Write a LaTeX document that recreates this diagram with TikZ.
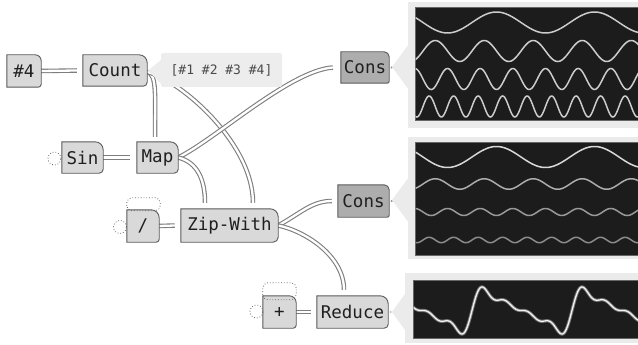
\documentclass[tikz,border=0pt]{standalone}
\usepackage{fontspec}
\setmonofont{DejaVu Sans Mono}
\usetikzlibrary{calc}

\pgfdeclarelayer{wires}
\pgfdeclarelayer{shapes}
\pgfsetlayers{wires,shapes,main}

\definecolor{nodefill}{HTML}{D9D9D9}
\definecolor{consfill}{HTML}{ADADAD}
\definecolor{edgegray}{HTML}{5A5A5A}
\definecolor{wiregray}{HTML}{7E7E7E}
\definecolor{panelgray}{HTML}{EBEBEB}
\definecolor{screen}{HTML}{1C1C1C}
\definecolor{labelfill}{HTML}{EDEDED}
\definecolor{labeltext}{HTML}{4A4A4A}

% partial Fourier sum of a sawtooth
\pgfmathdeclarefunction{saw}{1}{%
  \pgfmathparse{sin(#1)+sin(2*#1)/2+sin(3*#1)/3+sin(4*#1)/4}}

% block outline: square left side, large round top-right, small round bottom-right
\newcommand\tabshape[4]{%
  \begin{pgfonlayer}{shapes}
    \draw[draw=edgegray, line width=0.9pt, fill=#2]
      (#1.south west) -- (#1.north west)
      -- ([xshift=-#3]#1.north east) arc[start angle=90, end angle=0, radius=#3]
      -- ([yshift=#4]#1.south east) arc[start angle=0, end angle=-90, radius=#4]
      -- cycle;
  \end{pgfonlayer}}

\begin{document}
\begin{tikzpicture}[x=1pt,y=-1pt,
  fn/.style={inner sep=0pt, font=\ttfamily\fontsize{17.5}{20}\selectfont, text=black!88},
  wire/.style={draw=wiregray, line width=1.1pt, double=white, double distance=2.3pt},
  dotc/.style={circle, draw=black!60, dotted, line width=0.8pt, minimum size=13pt, inner sep=0pt},
  capline/.style={draw=black!60, dotted, line width=0.8pt, rounded corners=5pt},
  screenbox/.style={fill=screen, draw=black!60, line width=0.6pt},
  wave/.style={line width=1.5pt, line cap=round},
 ]
\useasboundingbox (0,0) rectangle (638,345);
\clip (0,0) rectangle (638,345);

% ---- blocks ----
\node[fn, minimum width=34pt, minimum height=32pt] (n4)   at (24,71)     {\#4};
\node[fn, minimum width=64pt, minimum height=31pt] (cnt)  at (115,70.5)  {Count};
\node[fn, minimum width=41pt, minimum height=31pt] (sin)  at (82.5,157.5) {Sin};
\node[fn, minimum width=41pt, minimum height=31pt] (map)  at (157.5,157.5) {Map};
\node[fn, minimum width=32pt, minimum height=32pt] (div)  at (143,226)   {/};
\node[fn, minimum width=97pt, minimum height=33pt] (zip)  at (229.5,225.5) {Zip-With};
\node[fn, minimum width=33pt, minimum height=32pt] (plus) at (279.5,312)  {+};
\node[fn, minimum width=71pt, minimum height=32pt] (red)  at (352.5,312)  {Reduce};
\node[fn, minimum width=48pt, minimum height=31pt] (cons1) at (365,67.5) {Cons};
\node[fn, minimum width=51pt, minimum height=32pt] (cons2) at (363.5,201) {Cons};

\tabshape{n4}{nodefill}{6pt}{3pt}
\tabshape{cnt}{nodefill}{8pt}{4pt}
\tabshape{sin}{nodefill}{8pt}{4pt}
\tabshape{map}{nodefill}{8pt}{4pt}
\tabshape{div}{nodefill}{8pt}{3pt}
\tabshape{zip}{nodefill}{8pt}{5pt}
\tabshape{plus}{nodefill}{7pt}{3pt}
\tabshape{red}{nodefill}{8pt}{4pt}
\tabshape{cons1}{consfill}{5pt}{2pt}
\tabshape{cons2}{consfill}{5pt}{2pt}

% ---- unbound inputs ----
\node[dotc] (sinin)  at (54.5,158.5) {};
\node[dotc] (divin)  at (120,227)    {};
\node[dotc] (plusin) at (256.5,311.5) {};
\draw[capline] ([yshift=-1pt]div.north west) -- ([yshift=12pt]div.north west)
  -- ([yshift=12pt,xshift=1pt]div.north east) -- ([yshift=-1pt,xshift=1pt]div.north east) -- cycle;
\draw[capline] ([yshift=-4pt]plus.north west) -- ([yshift=13pt]plus.north west)
  -- ([yshift=13pt]plus.north east) -- ([yshift=-4pt]plus.north east) -- cycle;

% ---- value label of Count ----
\fill[labelfill] ([xshift=1pt]cnt.east) -- (162,59) -- (162,85) -- cycle;
\node[fill=labelfill, rounded corners=2pt, minimum width=121pt, minimum height=34pt, inner sep=0pt,
      text=labeltext, font=\ttfamily\fontsize{13}{15}\selectfont] (lbl) at (221.5,70) {[\#1 \#2 \#3 \#4]};

% ---- wires ----
\begin{pgfonlayer}{wires}
\draw[wire] (n4.east) -- ([xshift=-6pt]cnt.west);
\draw[wire] (sin.east) -- ([xshift=-7pt]map.west);
\draw[wire] (div.east) -- ([xshift=-6pt]zip.west);
\draw[wire] (plus.east) -- ([xshift=-6pt]red.west);
\draw[wire] ([yshift=-1.5pt]cnt.east) .. controls +(10,2) and +(0,-40) .. ([xshift=-2.5pt,yshift=5pt]map.north);
\draw[wire] ([yshift=-1.5pt]cnt.east) .. controls +(33,8) and +(0,-60) .. ([xshift=23.5pt,yshift=6pt]zip.north);
\draw[wire] (map.east) .. controls +(37,-18) and +(-43,3) .. ([xshift=-8pt]cons1.west);
\draw[wire] (map.east) .. controls +(20,5) and +(0,-22) .. ([xshift=-24.5pt,yshift=6pt]zip.north);
\draw[wire] (zip.east) .. controls +(22,-12) and +(-20,0) .. ([xshift=-6pt]cons2.west);
\draw[wire] (zip.east) .. controls +(25,5) and +(0,-35) .. ([xshift=-8.5pt,yshift=6pt]red.north);
\end{pgfonlayer}

% ---- output ports ----
\fill[black!45] ([xshift=2.5pt]cons1.east) circle (1.2pt);
\fill[black!45] ([xshift=2.5pt]cons2.east) circle (1.2pt);
\fill[black!25] ([xshift=2.5pt]red.east) circle (1.2pt);

% ---- scope panels (phase factor 360/98 = 3.67347 deg per unit) ----
\fill[panelgray] (392,67) -- (409,44) -- (409,90) -- cycle;
\fill[panelgray] (408,2) rectangle (640,128);
\draw[screenbox] (415,7) rectangle (642,120);
\begin{scope}
  \clip (415.5,7.5) rectangle (638,119.5);
  \draw[wave, black!20] plot[domain=413:640, samples=200, smooth] (\x, {22.5 - 10.5*sin(3.67347*(\x-472))});
  \draw[wave, black!20] plot[domain=413:640, samples=200, smooth] (\x, {51 - 10.5*sin(7.34694*(\x-472))});
  \draw[wave, black!20] plot[domain=413:640, samples=250, smooth] (\x, {79 - 10.5*sin(11.0204*(\x-472))});
  \draw[wave, black!20] plot[domain=413:640, samples=300, smooth] (\x, {106.5 - 10.5*sin(14.6939*(\x-472))});
\end{scope}

\fill[panelgray] (392,200) -- (409,177) -- (409,223) -- cycle;
\fill[panelgray] (408,137) rectangle (640,259);
\draw[screenbox] (415,142) rectangle (642,255);
\begin{scope}
  \clip (415.5,142.5) rectangle (638,254.5);
  \draw[wave, black!15] plot[domain=413:640, samples=200, smooth] (\x, {157 - 10.5*sin(3.67347*(\x-472))});
  \draw[wave, black!32] plot[domain=413:640, samples=200, smooth] (\x, {184 - 5.25*sin(7.34694*(\x-472))});
  \draw[wave, black!40] plot[domain=413:640, samples=250, smooth] (\x, {212 - 3.5*sin(11.0204*(\x-472))});
  \draw[wave, black!45] plot[domain=413:640, samples=300, smooth] (\x, {240 - 2.7*sin(14.6939*(\x-472))});
\end{scope}

\fill[panelgray] (392,312) -- (407,291) -- (407,333) -- cycle;
\fill[panelgray] (405,273) rectangle (640,343);
\draw[screenbox] (413,280) rectangle (642,338);
\begin{scope}
  \clip (413.5,280.5) rectangle (638,337.5);
  \draw[line width=3.2pt, black!55, line cap=round] plot[domain=411:640, samples=300, smooth] (\x, {310.5 - 15.4*saw(3.6*(\x-472))});
  \draw[line width=1.3pt, black!5, line cap=round] plot[domain=411:640, samples=300, smooth] (\x, {310.5 - 15.4*saw(3.6*(\x-472))});
\end{scope}
\end{tikzpicture}
\end{document}
